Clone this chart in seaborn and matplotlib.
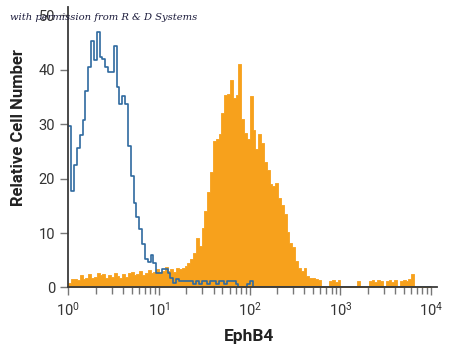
import numpy as np
import matplotlib
matplotlib.use("Agg")
import matplotlib.pyplot as plt
import seaborn as sns

# histogram counts, 128 log-spaced channels from 10^0 to 10^4
n_bins = 128

isotype_counts = [
    29.6, 17.8, 22.4, 25.7, 28.0, 30.8, 36.0, 40.5, 45.2, 41.8,
    47.0, 42.4, 41.9, 40.5, 39.6, 39.6, 44.3, 36.9, 33.6, 35.1,
    33.6, 26.0, 20.5, 15.5, 13.0, 10.8, 8.0, 5.2, 4.6, 6.0,
    4.5, 2.7, 2.7, 3.3, 3.3, 2.7, 1.8, 0.9, 1.5, 1.2,
    1.2, 1.2, 1.2, 1.2, 0.6, 1.2, 0.6, 1.2, 1.2, 0.6,
    1.2, 1.2, 0.6, 1.2, 1.2, 0.6, 1.2, 1.2, 1.2, 0.6,
    0, 0, 0, 0.6, 1.2, 0, 0, 0, 0, 0,
    0, 0, 0, 0, 0, 0, 0, 0, 0, 0,
    0, 0, 0, 0, 0, 0, 0, 0, 0, 0,
    0, 0, 0, 0, 0, 0, 0, 0, 0, 0,
    0, 0, 0, 0, 0, 0, 0, 0, 0, 0,
    0, 0, 0, 0, 0, 0, 0, 0, 0, 0,
    0, 0, 0, 0, 0, 0, 0, 0,
]

ephb4_counts = [
    0.8, 1.5, 1.6, 1.4, 2.2, 1.6, 1.8, 2.4, 1.7, 2.0,
    2.6, 2.2, 2.5, 1.8, 2.3, 2.0, 2.7, 2.1, 1.8, 2.4,
    2.0, 2.6, 2.9, 2.2, 2.5, 3.0, 2.3, 2.7, 3.2, 2.6,
    2.9, 3.4, 2.8, 3.1, 3.7, 3.0, 3.3, 2.9, 3.5, 3.3,
    3.6, 3.9, 4.5, 5.3, 6.3, 9.0, 7.6, 11.0, 14.0, 17.5,
    21.2, 26.9, 27.2, 28.2, 32.0, 35.4, 35.5, 38.1, 34.8, 35.4,
    41.1, 31.0, 28.3, 27.2, 35.1, 29.0, 25.5, 28.1, 26.5, 23.0,
    21.5, 19.0, 18.6, 19.2, 16.5, 15.2, 13.4, 10.2, 8.2, 7.4,
    4.8, 3.6, 3.0, 3.6, 2.1, 1.8, 1.8, 1.6, 1.3, 0,
    0, 0, 1.2, 1.4, 1.0, 1.3, 0, 0, 0, 0,
    0, 0, 1.2, 0, 0, 0, 1.1, 1.4, 1.0, 1.3,
    1.1, 0, 1.2, 1.4, 1.0, 1.3, 0, 1.2, 1.4, 1.1,
    1.6, 2.4, 0, 0, 0, 0, 0, 0,
]

y_ticks = [0, 10, 20, 30, 40, 50]

edges = np.linspace(0, 4, n_bins + 1)
centers = 10 ** ((edges[:-1] + edges[1:]) / 2)

sns.set_style("ticks")
plt.rcParams['font.family'] = ['Roboto', 'DejaVu Sans']
plt.rcParams['mathtext.default'] = 'regular'

fig = plt.figure(figsize=(4.5, 3.51), dpi=100)
ax = fig.add_axes([0.152, 0.181, 0.819, 0.799])

orange = "#f7a11c"
sns.histplot(x=centers, weights=ephb4_counts, bins=n_bins, binrange=(0, 4),
             log_scale=True, element="step", fill=True, color=orange,
             alpha=1, linewidth=0.6, edgecolor=orange, ax=ax)
sns.histplot(x=centers, weights=isotype_counts, bins=n_bins, binrange=(0, 4),
             log_scale=True, element="step", fill=False, color="#2f6aa0",
             linewidth=1.2, ax=ax)

ax.set_xlim(1, 10 ** 4.065)
ax.set_ylim(0, 51.5)
ax.set_yticks(y_ticks)

for s in ["top", "right"]:
    ax.spines[s].set_visible(False)
for s in ["left", "bottom"]:
    ax.spines[s].set_color("#3a3a3a")
    ax.spines[s].set_linewidth(1.3)

ax.tick_params(axis="both", which="major", length=6, width=1, color="#777777",
               labelcolor="#333333", labelsize=10.5)
ax.tick_params(axis="x", which="minor", length=5, width=1, color="#777777")

ax.set_xlabel("EphB4", fontsize=12.5, fontweight="bold", color="#222222")
ax.set_ylabel("Relative Cell Number", fontsize=12, fontweight="bold", color="#222222")
ax.xaxis.set_label_coords(0.491, -0.148)
ax.yaxis.set_label_coords(-0.115, 0.57)

fig.text(0.022, 0.950, "with permission from R & D Systems", fontsize=7.2,
         family="DejaVu Serif", style="italic", color="#1c1c3c", va="center")

fig.savefig("out.png", dpi=100)
